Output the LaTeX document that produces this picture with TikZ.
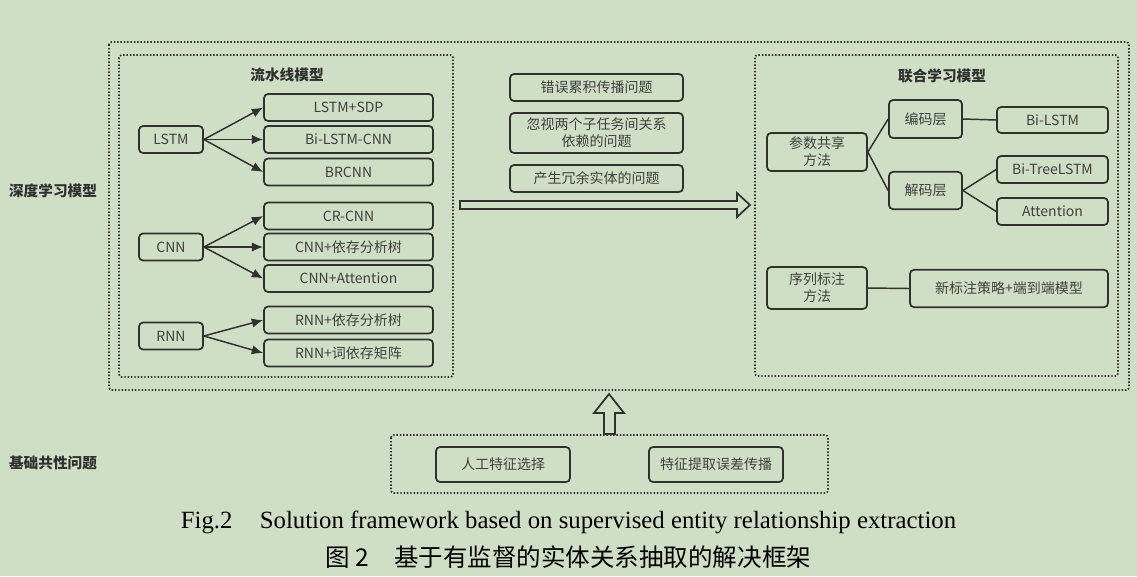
\documentclass[tikz,border=0pt]{standalone}
\usepackage{fontspec}
\setmainfont{Liberation Serif}
\newfontfamily\cjk{Noto Sans CJK SC}
\IfFontExistsTF{FandolSong-Regular.otf}{\newfontfamily\song{FandolSong-Regular.otf}}{\newfontfamily\song{Noto Sans CJK SC}}
\usetikzlibrary{arrows.meta}
\definecolor{bg}{HTML}{CFDFC5}
\definecolor{ln}{HTML}{303030}
\definecolor{tx}{HTML}{404040}
\begin{document}
\begin{tikzpicture}[x=0.75pt,y=-0.75pt,
  box/.style={draw=ln,line width=1.3pt,rounded corners=3pt,text=tx,font=\cjk\fontsize{10.5}{12.75}\selectfont,inner sep=0pt,align=center},
  lbox/.style={box,minimum width=48pt,minimum height=20.25pt},
  tbox/.style={box,minimum width=126.75pt,minimum height=20.25pt},
  dotbox/.style={draw=ln,line width=1.3pt,dash pattern=on 1.1pt off 1.4pt,rounded corners=2pt},
  arr/.style={draw=ln,line width=1.1pt,-{Latex[length=8.5pt,width=7pt]}},
  con/.style={draw=ln,line width=1.1pt},
  ttl/.style={font=\cjk\bfseries\fontsize{11}{13}\selectfont,text=ln},
  hollow/.style={draw=ln,line width=1.3pt,fill=bg,line join=miter}]
\fill[bg] (0,0) rectangle (1137,576);
\useasboundingbox (0,0) rectangle (1137,576);

% dotted frames
\draw[dotbox] (109,42) rectangle (1129,390);
\draw[dotbox] (119,55) rectangle (453,377);
\draw[dotbox] (755,55) rectangle (1118,376);
\draw[dotbox] (391,435) rectangle (828,493);

% side labels
\node[ttl] (deep) at (53,191) {深度学习模型};
\node[ttl] (basic) at (53,463) {基础共性问题};

% pipeline
\node[ttl] (pipe) at (287,75) {流水线模型};
\node[lbox] (lstm) at (171,139.5) {LSTM};
\node[lbox] (cnn) at (171,247) {CNN};
\node[lbox] (rnn) at (171,336) {RNN};
\node[tbox] (lstmsdp) at (348.5,107.5) {LSTM+SDP};
\node[tbox] (bilstmcnn) at (348.5,139.5) {Bi-LSTM-CNN};
\node[tbox] (brcnn) at (348.5,172) {BRCNN};
\node[tbox] (crcnn) at (348.5,216) {CR-CNN};
\node[tbox] (cnndep) at (348.5,247) {CNN+依存分析树};
\node[tbox] (cnnatt) at (348.5,278.5) {CNN+Attention};
\node[tbox] (rnndep) at (348.5,320) {RNN+依存分析树};
\node[tbox] (rnnword) at (348.5,353) {RNN+词依存矩阵};
\foreach \t in {lstmsdp,bilstmcnn,brcnn}{\draw[arr] (lstm.east) -- (\t.west);}
\foreach \t in {crcnn,cnndep,cnnatt}{\draw[arr] (cnn.east) -- (\t.west);}
\foreach \t in {rnndep,rnnword}{\draw[arr] (rnn.east) -- (\t.west);}

% middle problems
\node[box,minimum width=129.75pt,minimum height=20.25pt] (e1) at (596.5,87.5) {错误累积传播问题};
\node[box,minimum width=129.75pt,minimum height=30pt] (e2) at (596.5,133) {忽视两个子任务间关系\\依赖的问题};
\node[box,minimum width=129.75pt,minimum height=20.25pt] (e3) at (596.5,178.5) {产生冗余实体的问题};
\draw[hollow] (460,201) -- (737,201) -- (737,193) -- (750,205) -- (737,217) -- (737,209) -- (460,209) -- cycle;

% joint model
\node[ttl] (joint) at (942,76) {联合学习模型};
\node[box,minimum width=75pt,minimum height=28.5pt] (share) at (817,152) {参数共享\\方法};
\node[box,minimum width=54.75pt,minimum height=28.5pt] (enc) at (925.5,119) {编码层};
\node[box,minimum width=54.75pt,minimum height=28pt] (dec) at (925.5,190.5) {解码层};
\node[box,minimum width=83.25pt,minimum height=19.5pt] (bilstm) at (1052.5,120) {Bi-LSTM};
\node[box,minimum width=83.25pt,minimum height=20.25pt] (tree) at (1052.5,169.5) {Bi-TreeLSTM};
\node[box,minimum width=83.25pt,minimum height=20.25pt] (att) at (1052.5,211.5) {Attention};
\node[box,minimum width=75pt,minimum height=31.5pt] (seq) at (817,288) {序列标注\\方法};
\node[box,minimum width=148.5pt,minimum height=28pt] (newtag) at (1009,288.5) {新标注策略+端到端模型};
\draw[con] (share.east) -- (enc.west);
\draw[con] (share.east) -- (dec.west);
\draw[con] (enc.east) -- (bilstm.west);
\draw[con] (dec.east) -- (tree.west);
\draw[con] (dec.east) -- (att.west);
\draw[con] (seq.east) -- (newtag.west);

% basic problems
\node[box,minimum width=100.5pt,minimum height=26.25pt] (manual) at (503,464.5) {人工特征选择};
\node[box,minimum width=100.5pt,minimum height=26.25pt] (errprop) at (716,464.5) {特征提取误差传播};
\draw[hollow] (604,434) -- (604,413) -- (594,413) -- (609,394) -- (624,413) -- (615,413) -- (615,434) -- cycle;

% captions
\node[font=\fontsize{18.6}{21}\selectfont,text=black] (cap1) at (568.5,522) {Fig.2\hspace{1.1em}Solution framework based on supervised entity relationship extraction};
\node[font=\song\fontsize{18.4}{21}\selectfont,text=black] (cap2) at (568.5,557) {图 2\hspace{1em}基于有监督的实体关系抽取的解决框架};
\end{tikzpicture}
\end{document}
